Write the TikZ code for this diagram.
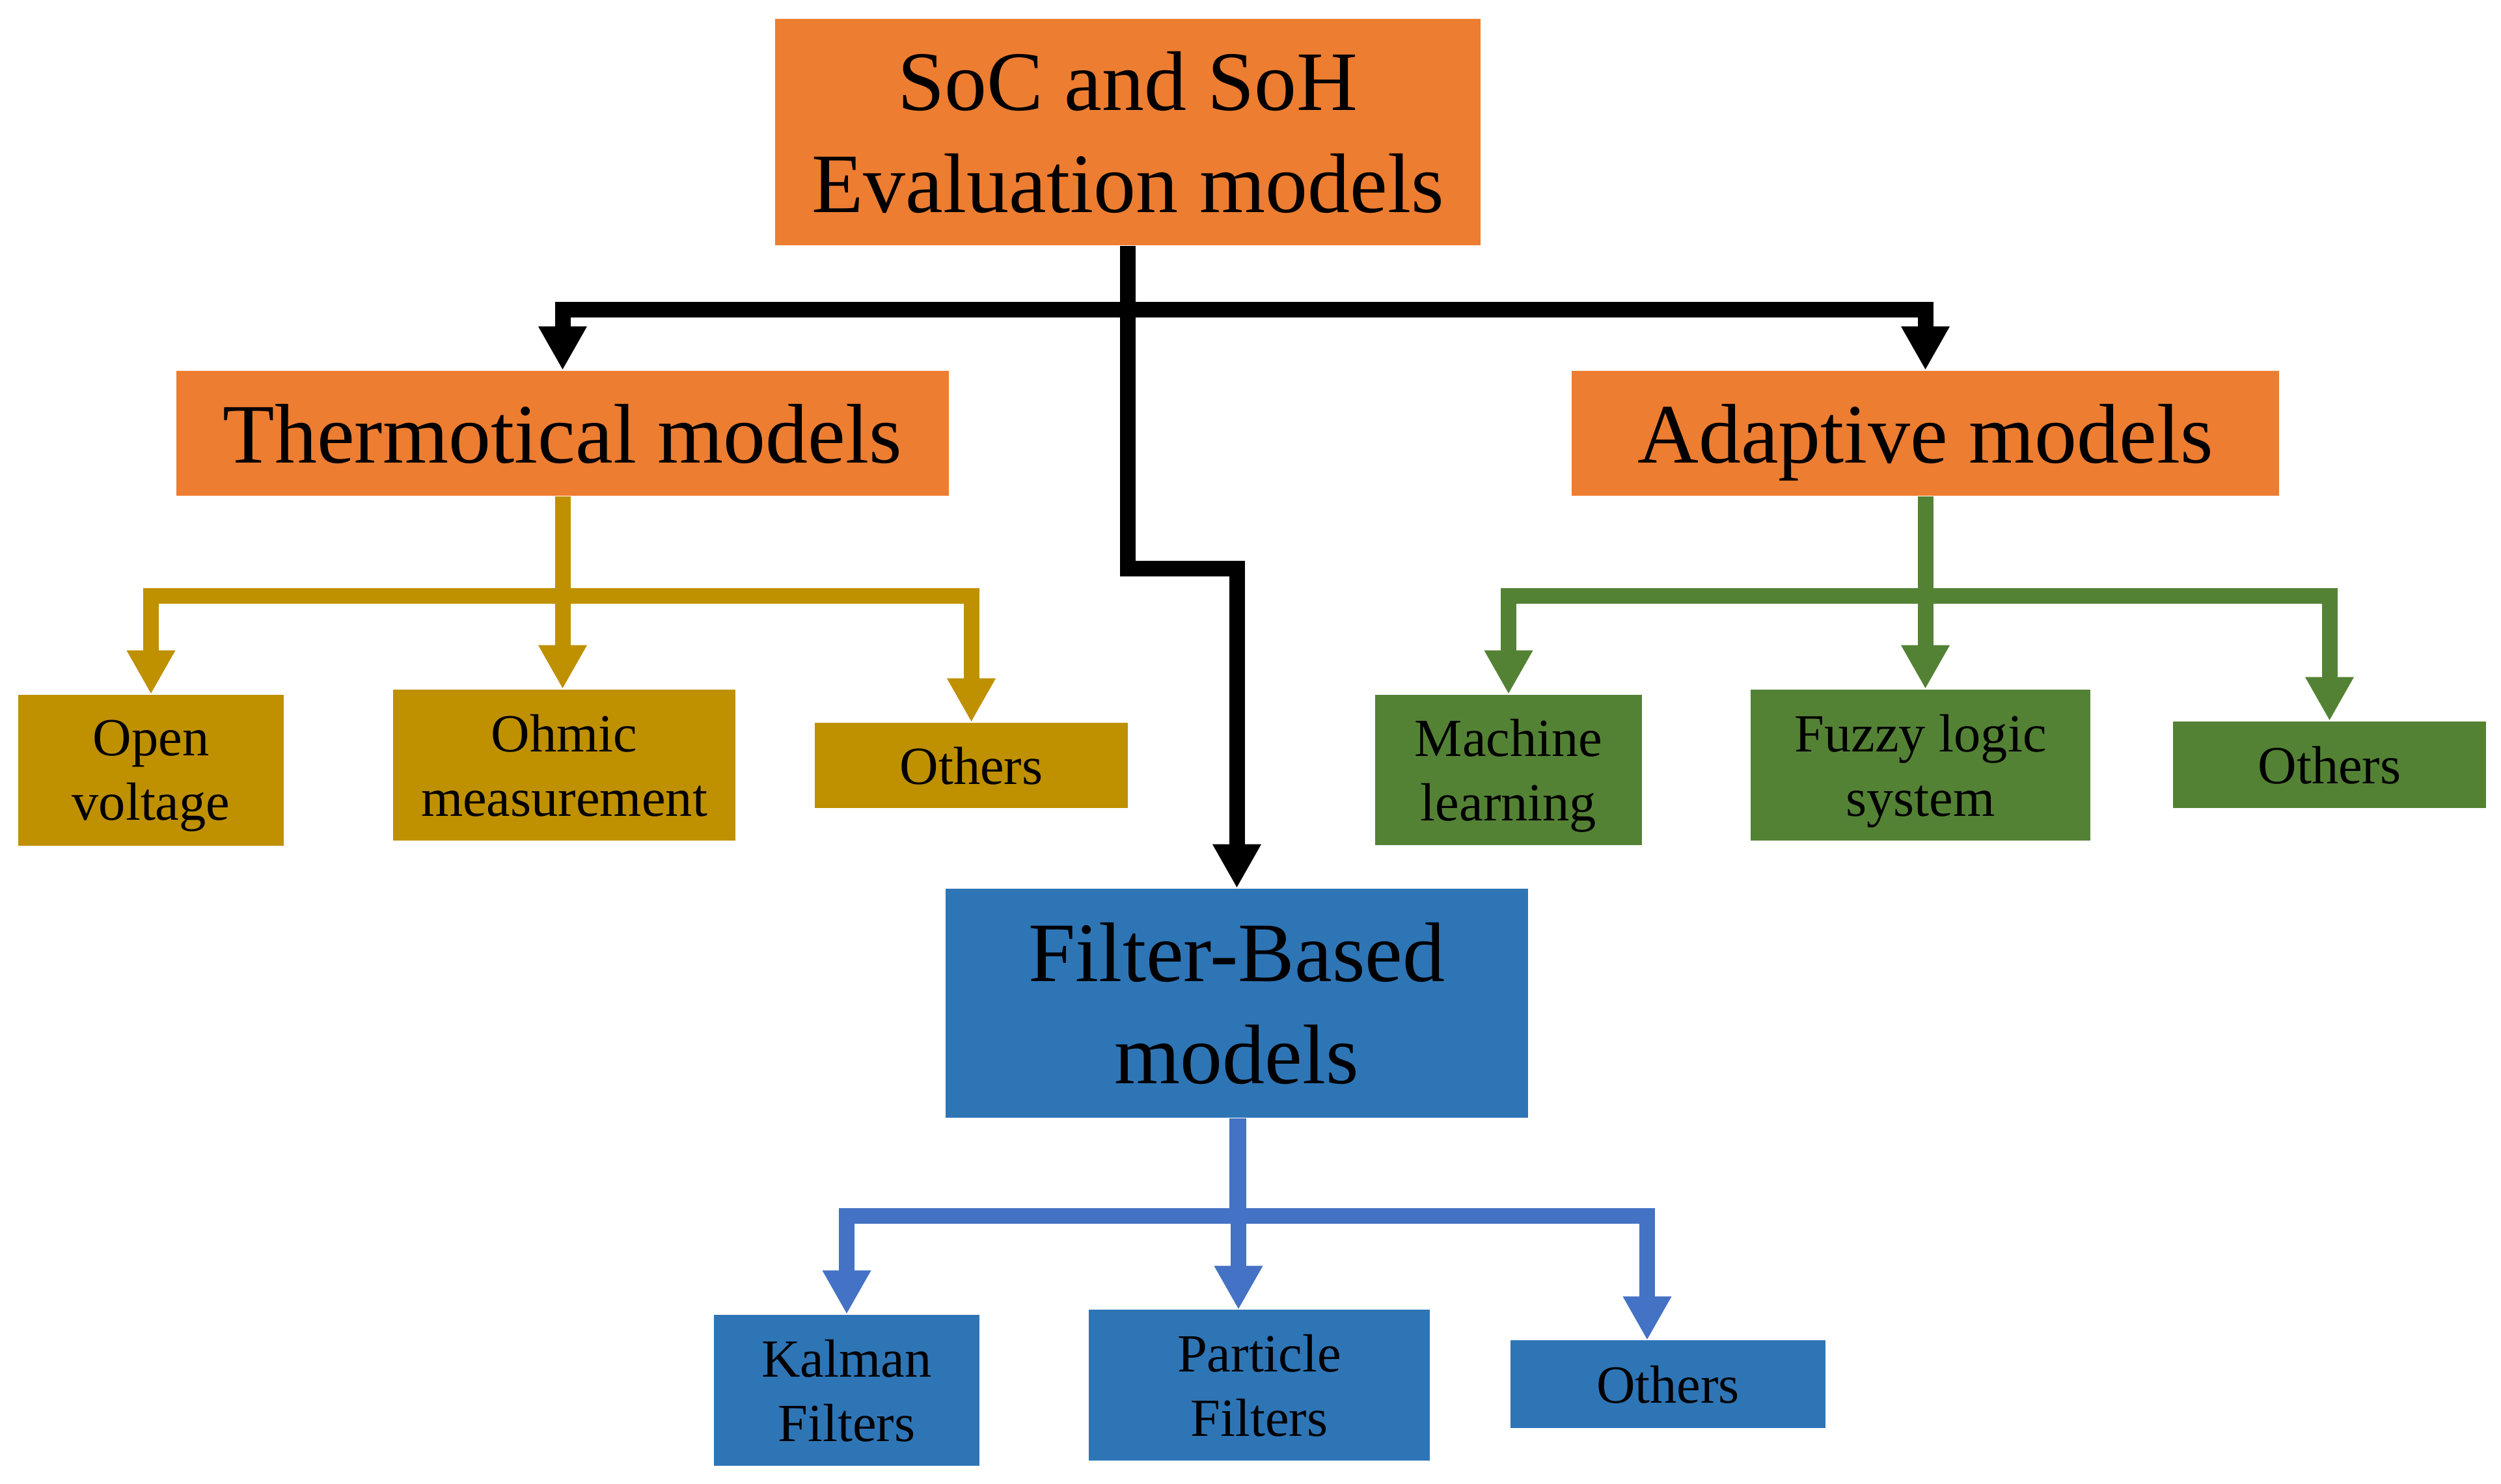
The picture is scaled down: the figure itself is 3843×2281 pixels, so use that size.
\documentclass[tikz,border=0pt]{standalone}
\usepackage{fontspec}
\setmainfont{Liberation Serif}
\usetikzlibrary{arrows.meta}
\definecolor{orangeb}{HTML}{ED7D31}
\definecolor{goldb}{HTML}{BF9000}
\definecolor{greenb}{HTML}{548235}
\definecolor{blueb}{HTML}{2E75B6}
\definecolor{bluec}{HTML}{4472C4}
\begin{document}
\begin{tikzpicture}[x=0.2pt,y=-0.2pt,
  box/.style={rectangle,inner sep=0pt,align=center,text=black,text depth=0pt},
  bigtext/.style={font=\fontsize{26pt}{31.4pt}\selectfont},
  smalltext/.style={font=\fontsize{16.5pt}{19.8pt}\selectfont},
  conn/.style={line width=4.8pt,line join=miter,-{Triangle[width=14pt,length=13.5pt]}},
  ]
\useasboundingbox (0,0) rectangle (3843,2281);
% main boxes
\node[box,bigtext,fill=orangeb,minimum width=216.8pt,minimum height=69.6pt] (top) at (1733,203) {SoC and SoH\\Evaluation models};
\node[box,bigtext,fill=orangeb,minimum width=237.4pt,minimum height=38.4pt] (thermo) at (864.5,666) {Thermotical models};
\node[box,bigtext,fill=orangeb,minimum width=217.4pt,minimum height=38.4pt] (adapt) at (2958.5,666) {Adaptive models};
\node[box,bigtext,fill=blueb,minimum width=179pt,minimum height=70.4pt] (filter) at (1900.5,1542) {Filter-Based\\models};
% thermotical children
\node[box,smalltext,fill=goldb,minimum width=81.6pt,minimum height=46.4pt] (open) at (232,1184) {Open\\voltage};
\node[box,smalltext,fill=goldb,minimum width=105.2pt,minimum height=46.4pt] (ohmic) at (867,1176) {Ohmic\\measurement};
\node[box,smalltext,fill=goldb,minimum width=96.2pt,minimum height=26.2pt] (othT) at (1492.5,1176.5) {Others};
% adaptive children
\node[box,smalltext,fill=greenb,minimum width=82pt,minimum height=46.2pt] (ml) at (2318,1183.5) {Machine\\learning};
\node[box,smalltext,fill=greenb,minimum width=104.4pt,minimum height=46.4pt] (fuzzy) at (2951,1176) {Fuzzy logic\\system};
\node[box,smalltext,fill=greenb,minimum width=96.2pt,minimum height=26.6pt] (othA) at (3579.5,1175.5) {Others};
% filter children
\node[box,smalltext,fill=blueb,minimum width=81.6pt,minimum height=46.4pt] (kalman) at (1301,2137) {Kalman\\Filters};
\node[box,smalltext,fill=blueb,minimum width=104.8pt,minimum height=46.4pt] (particle) at (1935,2129) {Particle\\Filters};
\node[box,smalltext,fill=blueb,minimum width=96.8pt,minimum height=27pt] (othF) at (2563,2127.5) {Others};
% coordinates for off-centre arrow ends
\coordinate (pEnd) at (1903,2013);
\coordinate (oEnd) at (2531,2060);
% black connectors
\draw[conn,black] (top.south) -- (top.south |- 0,476) -| (thermo.north);
\draw[conn,black] (top.south) -- (top.south |- 0,476) -| (adapt.north);
\draw[conn,black] (top.south) -- (top.south |- 0,874) -| (filter.north);
% gold connectors
\draw[conn,goldb] (thermo.south) -- (thermo.south |- 0,916) -| (open.north);
\draw[conn,goldb] (thermo.south) -- (thermo.south |- ohmic.north);
\draw[conn,goldb] (thermo.south) -- (thermo.south |- 0,916) -| (othT.north);
% green connectors
\draw[conn,greenb] (adapt.south) -- (adapt.south |- 0,916) -| (ml.north);
\draw[conn,greenb] (adapt.south) -- (adapt.south |- fuzzy.north);
\draw[conn,greenb] (adapt.south) -- (adapt.south |- 0,916) -| (othA.north);
% blue connectors
\draw[conn,bluec] (filter.south) -- (filter.south |- 0,1869) -| (kalman.north);
\draw[conn,bluec] (pEnd |- filter.south) -- (pEnd);
\draw[conn,bluec] (filter.south) -- (filter.south |- 0,1869) -| (oEnd);
\end{tikzpicture}
\end{document}
